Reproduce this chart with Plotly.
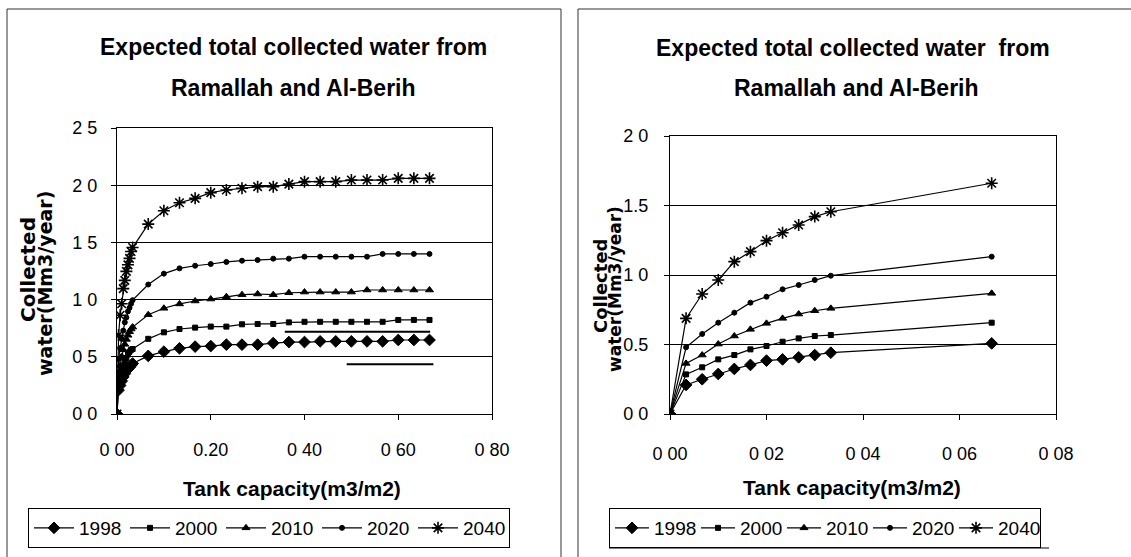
import plotly.graph_objects as go

W, H = 1131, 557

# ---------------- data ----------------
years = ["1998", "2000", "2010", "2020", "2040"]

# Left chart: tank capacity (m3/m2)
cap_left = [0, 0.00333, 0.00667, 0.01, 0.01333, 0.01667, 0.02, 0.02333, 0.02667, 0.03, 0.03333,
            0.06667, 0.1, 0.13333, 0.16667, 0.2, 0.23333, 0.26667, 0.3, 0.33333, 0.36667,
            0.4, 0.43333, 0.46667, 0.5, 0.53333, 0.56667, 0.6, 0.63333, 0.66667]

left_1998 = [0, 0.209, 0.25, 0.288, 0.324, 0.353, 0.384, 0.393, 0.408, 0.424, 0.441,
             0.508, 0.545, 0.574, 0.589, 0.594, 0.606, 0.606, 0.606, 0.620, 0.629,
             0.629, 0.635, 0.635, 0.635, 0.635, 0.635, 0.647, 0.647, 0.647]
left_2000 = [0, 0.285, 0.336, 0.393, 0.424, 0.465, 0.489, 0.520, 0.544, 0.561, 0.568,
             0.657, 0.714, 0.743, 0.755, 0.764, 0.764, 0.784, 0.787, 0.787, 0.801,
             0.806, 0.806, 0.806, 0.806, 0.806, 0.806, 0.822, 0.822, 0.822]
left_2010 = [0, 0.364, 0.424, 0.503, 0.561, 0.609, 0.652, 0.688, 0.719, 0.743, 0.760,
             0.868, 0.924, 0.962, 0.988, 1.005, 1.025, 1.043, 1.049, 1.043, 1.060,
             1.066, 1.066, 1.066, 1.066, 1.084, 1.084, 1.084, 1.084, 1.084]
left_2020 = [0, 0.480, 0.576, 0.657, 0.729, 0.801, 0.844, 0.897, 0.928, 0.964, 0.995,
             1.132, 1.227, 1.273, 1.296, 1.311, 1.329, 1.340, 1.346, 1.358, 1.358,
             1.375, 1.375, 1.375, 1.375, 1.375, 1.399, 1.399, 1.399, 1.399]
left_2040 = [0, 0.688, 0.863, 0.964, 1.096, 1.168, 1.247, 1.304, 1.360, 1.420, 1.455,
             1.660, 1.777, 1.847, 1.885, 1.935, 1.958, 1.973, 1.987, 1.987, 2.010,
             2.031, 2.031, 2.031, 2.045, 2.045, 2.045, 2.060, 2.060, 2.060]

# stray horizontal strokes visible in the left plot area
stray1_x = [0.358, 0.668]
stray1_y = [0.72, 0.72]
stray2_x = [0.49, 0.675]
stray2_y = [0.434, 0.434]

# Right chart: small tank capacities
cap_right = [0, 0.00333, 0.00667, 0.01, 0.01333, 0.01667, 0.02, 0.02333, 0.02667, 0.03, 0.03333, 0.06667]
right_1998 = [0, 0.209, 0.25, 0.288, 0.324, 0.353, 0.384, 0.393, 0.408, 0.424, 0.441, 0.508]
right_2000 = [0, 0.285, 0.336, 0.393, 0.424, 0.465, 0.489, 0.520, 0.544, 0.561, 0.568, 0.657]
right_2010 = [0, 0.364, 0.424, 0.503, 0.561, 0.609, 0.652, 0.688, 0.719, 0.743, 0.760, 0.868]
right_2020 = [0, 0.480, 0.576, 0.657, 0.729, 0.801, 0.844, 0.897, 0.928, 0.964, 0.995, 1.132]
right_2040 = [0, 0.688, 0.863, 0.964, 1.096, 1.168, 1.247, 1.304, 1.360, 1.420, 1.455, 1.660]

left_yticks = [0, 0.5, 1.0, 1.5, 2.0, 2.5]
left_yticktext = ["0 0", "0 5", "1 0", "1 5", "2 0", "2 5"]
left_xticks = [0, 0.2, 0.4, 0.6, 0.8]
left_xticktext = ["0 00", "0.20", "0 40", "0 60", "0 80"]
right_yticks = [0, 0.5, 1.0, 1.5, 2.0]
right_yticktext = ["0 0", "0.5", "1 0", "1.5", "2 0"]
right_xticks = [0, 0.02, 0.04, 0.06, 0.08]
right_xticktext = ["0 00", "0 02", "0 04", "0 06", "0 08"]

title_line1_left = "Expected total collected water from"
title_line1_right = "Expected total collected water  from"
title_line2 = "Ramallah and Al-Berih"
xtitle = "Tank capacity(m3/m2)"
ytitle1 = "Collected"
ytitle2 = "water(Mm3/year)"

# ---------------- style ----------------
SANS = "Liberation Sans, Arial, sans-serif"
WIDE = "DejaVu Sans, Verdana, sans-serif"
markers = {
    "1998": dict(symbol="diamond", size=9, lw=1),
    "2000": dict(symbol="square", size=5, lw=1),
    "2010": dict(symbol="triangle-up", size=7, lw=1),
    "2020": dict(symbol="circle", size=5, lw=1),
    "2040": dict(symbol="asterisk-open", size=10, lw=1.6),
}


def px_x(p):
    return p / W


def px_y(p):
    return 1 - p / H


fig = go.Figure()

left_series = [left_1998, left_2000, left_2010, left_2020, left_2040]
right_series = [right_1998, right_2000, right_2010, right_2020, right_2040]

for yr, vals in zip(years, left_series):
    m = markers[yr]
    fig.add_trace(go.Scatter(
        x=cap_left, y=vals, name=yr, mode="lines+markers",
        line=dict(color="black", width=1.2),
        marker=dict(symbol=m["symbol"], size=m["size"], color="black",
                    line=dict(color="black", width=m["lw"])),
        xaxis="x", yaxis="y", legend="legend",
    ))

for sx, sy in [(stray1_x, stray1_y), (stray2_x, stray2_y)]:
    fig.add_trace(go.Scatter(x=sx, y=sy, mode="lines", line=dict(color="black", width=2),
                             showlegend=False, hoverinfo="skip", xaxis="x", yaxis="y"))

for yr, vals in zip(years, right_series):
    m = markers[yr]
    fig.add_trace(go.Scatter(
        x=cap_right, y=vals, name=yr, mode="lines+markers",
        line=dict(color="black", width=1.2),
        marker=dict(symbol=m["symbol"], size=m["size"], color="black",
                    line=dict(color="black", width=m["lw"])),
        xaxis="x2", yaxis="y2", legend="legend2",
    ))

axis_common = dict(
    showline=True, linecolor="black", linewidth=1, mirror=True,
    ticks="outside", ticklen=5, tickcolor="black",
    tickfont=dict(family=SANS, size=18, color="black"),
    zeroline=False, tickmode="array", automargin=False,
)

fig.update_layout(
    width=W, height=H, autosize=False,
    margin=dict(l=0, r=0, t=0, b=0, pad=0, autoexpand=False),
    paper_bgcolor="white", plot_bgcolor="white",
    xaxis=dict(domain=[px_x(117), px_x(492)], range=[0, 0.8], anchor="y",
               tickvals=left_xticks, ticktext=left_xticktext, showgrid=False,
               ticklabelstandoff=14, **axis_common),
    yaxis=dict(domain=[px_y(414), px_y(128)], range=[0, 2.5], anchor="x",
               tickvals=left_yticks, ticktext=left_yticktext, showgrid=True,
               gridcolor="black", gridwidth=1, ticklabelstandoff=10, **axis_common),
    xaxis2=dict(domain=[px_x(670), px_x(1056)], range=[0, 0.08], anchor="y2",
                tickvals=right_xticks, ticktext=right_xticktext, showgrid=False,
                ticklabelstandoff=18, **axis_common),
    yaxis2=dict(domain=[px_y(414), px_y(136)], range=[0, 2.0], anchor="x2",
                tickvals=right_yticks, ticktext=right_yticktext, showgrid=True,
                gridcolor="black", gridwidth=1, ticklabelstandoff=12, **axis_common),
    legend=dict(orientation="h", x=px_x(28), y=px_y(508), xanchor="left", yanchor="top",
                bgcolor="white", bordercolor="black", borderwidth=1,
                font=dict(family=SANS, size=19, color="black"),
                itemwidth=40, entrywidth=41, tracegroupgap=0),
    legend2=dict(orientation="h", x=px_x(609), y=px_y(508), xanchor="left", yanchor="top",
                 bgcolor="white", bordercolor="black", borderwidth=1,
                 font=dict(family=SANS, size=19, color="black"),
                 itemwidth=34, entrywidth=37, tracegroupgap=0),
    showlegend=True,
)

ann = []
tfont = dict(family=SANS, size=23, color="black", weight="bold")
for txt, cx, cy in [(title_line1_left, 293, 47), (title_line2, 293, 88),
                    (title_line1_right, 853, 48), (title_line2, 857, 88)]:
    ann.append(dict(text=txt, x=px_x(cx), y=px_y(cy), xref="paper", yref="paper",
                    xanchor="center", yanchor="middle", showarrow=False, font=tfont))
xfont = dict(family=SANS, size=21, color="black", weight="bold")
for cx, cy in [(292, 488), (852, 487)]:
    ann.append(dict(text=xtitle, x=px_x(cx), y=px_y(cy), xref="paper", yref="paper",
                    xanchor="center", yanchor="middle", showarrow=False, font=xfont))
for txt, cx, cy, sz in [(ytitle1, 28, 270, 20), (ytitle2, 45, 284, 19),
                        (ytitle1, 600, 286, 18), (ytitle2, 615, 289, 17)]:
    ann.append(dict(text=txt, x=px_x(cx), y=px_y(cy), xref="paper", yref="paper",
                    xanchor="center", yanchor="middle", showarrow=False, textangle=-90,
                    font=dict(family=WIDE, size=sz, color="black", weight="bold")))
fig.update_layout(annotations=ann)

shapes = [
    # panel frames
    dict(type="rect", xref="paper", yref="paper", x0=px_x(7), x1=px_x(561), y0=px_y(9), y1=px_y(570),
         line=dict(color="#333", width=1)),
    dict(type="rect", xref="paper", yref="paper", x0=px_x(578), x1=px_x(1140), y0=px_y(9), y1=px_y(570),
         line=dict(color="#333", width=1)),
    # extra rule under right legend
    dict(type="line", xref="paper", yref="paper", x0=px_x(609), x1=px_x(1049), y0=px_y(548), y1=px_y(548),
         line=dict(color="black", width=1)),
]
fig.update_layout(shapes=shapes)

fig.write_html("out.html")
